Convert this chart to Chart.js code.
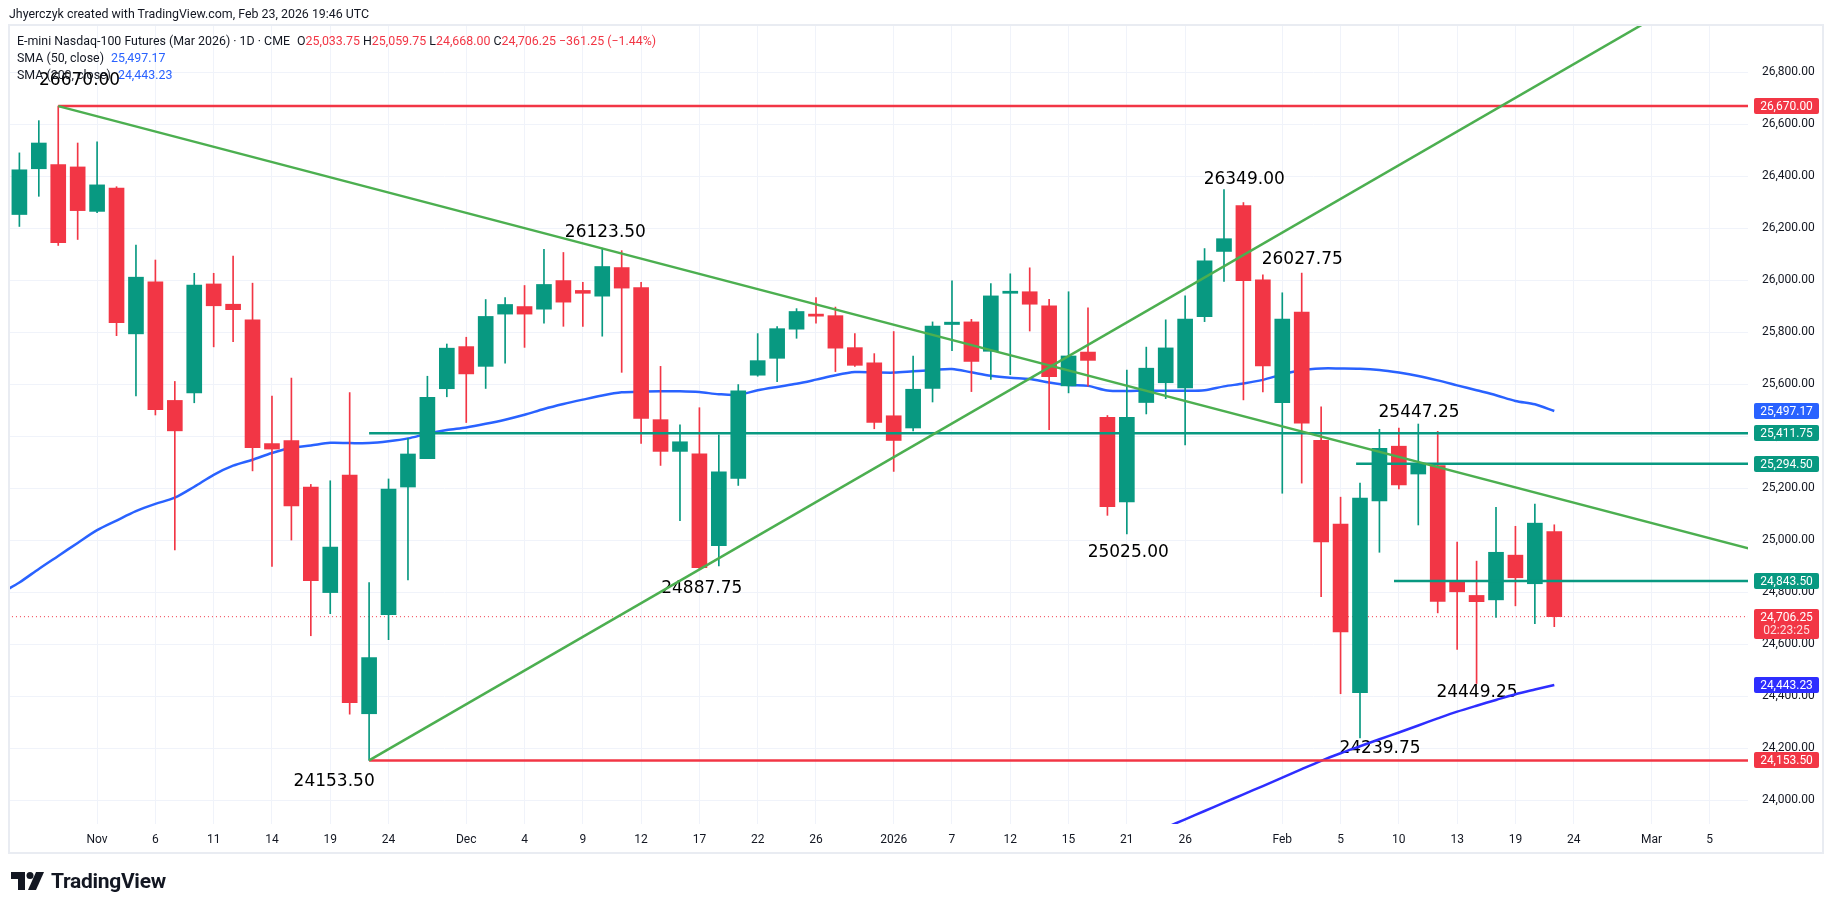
<!DOCTYPE html>
<html>
<head>
<meta charset="utf-8">
<script src="https://cdn.jsdelivr.net/npm/chart.js@4.4.1/dist/chart.umd.min.js"></script>
<style>
  html, body { margin: 0; padding: 0; background: #fff; width: 1835px; height: 913px; overflow: hidden; }
  body { font-family: Roboto, "DejaVu Sans", sans-serif; color: #131722; }
  canvas { position: absolute; left: 0; top: 0; }
  .txt { position: absolute; white-space: nowrap; font-size: 12.4px; }
  .red { color: #f23645; }
  .blue { color: #2962ff; }
  .gap { margin-left: 7px; }
  .sgap { margin-left: 3px; }
  #logo { position: absolute; left: 11px; top: 869px; display: flex; align-items: center; gap: 6px;
          font-weight: 700; font-size: 21px; letter-spacing: -0.3px; color: #131722; }
</style>
</head>
<body>
<canvas id="chart" width="1835" height="913"></canvas>

<div class="txt" style="left:9px;top:6px;">Jhyerczyk created with TradingView.com, Feb 23, 2026 19:46 UTC</div>
<div class="txt" style="left:17px;top:33px;">E-mini Nasdaq-100 Futures (Mar 2026) · 1D · CME<span class="gap">O</span><span class="red">25,033.75</span><span class="sgap">H</span><span class="red">25,059.75</span><span class="sgap">L</span><span class="red">24,668.00</span><span class="sgap">C</span><span class="red">24,706.25</span><span class="red sgap">−361.25 (−1.44%)</span></div>
<div class="txt" style="left:17px;top:50px;">SMA (50, close)<span class="blue gap">25,497.17</span></div>
<div class="txt" style="left:17px;top:67px;">SMA (200, close)<span class="blue gap">24,443.23</span></div>

<div id="logo">
  <svg width="34" height="22" viewBox="0 0 34 22"><path d="M0 2h14v18H7V9H0z" fill="#131722"/><circle cx="19" cy="5.5" r="3.5" fill="#131722"/><path d="M25 2h8l-8 18h-8z" fill="#131722"/></svg>
  <span>TradingView</span>
</div>

<script>
// ===== DATA (bar index 0 = Oct 28, 2025) =====
const opens = [26253,26429,26445,26436,26265,26355,25794,25994,25538,25567,
  25986,25908,25848,25372,25384,25205,24799,25251,24333,24714,
  25205,25314,25583,25745,25669,25870,25899,25889,25999,25961,
  25939,26049,25972,25464,25342,25333,24979,25238,25635,25700,
  25812,25870,25864,25741,25683,25479,25432,25584,25830,25840,
  25727,25950,25956,25902,25594,25724,25473,25148,25530,25606,
  25586,25860,26111,26287,26002,25529,25878,25385,25062,24414,
  25152,25362,25255,25287,24842,24788,24771,24943,24833,25033.75];
const highs = [26490,26614,26670,26528,26533,26360,26135,26078,25611,26027,
  26027,26093,25989,25555,25624,25215,25229,25568,24837,25236,
  25392,25631,25755,25781,25926,25934,25980,26119,26107,25992,
  26123.5,26114,25992,25669,25444,25510,25406,25599,25795,25822,
  25891,25934,25897,25795,25718,25803,25709,25840,25998,25850,
  25987,26025,26048,25927,25956,25894,25480,25655,25743,25848,
  25940,26122,26349,26299,26021,25952,26027.75,25513,25166,25220,
  25427,25432,25447.25,25419,24993,24920,25127,25054,25139,25059.75];
const lows = [26207,26323,26134,26157,26260,25787,25555,25482,24963,25529,
  25744,25764,25267,24900,25001,24633,24718,24331,24153.5,24618,
  24848,25314,25552,25453,25584,25681,25742,25835,25823,25823,
  25785,25646,25373,25288,25076,24887.75,24902,25211,25631,25610,
  25777,25835,25649,25669,25429,25265,25421,25532,25729,25572,
  25619,25637,25805,25426,25567,25593,25096,25025,25486,25545,
  25367,25841,25996,25540,25571,25181,25220,24783,24410,24239.75,
  24954,25198,25059,24721,24580,24449.25,24703,24748,24679,24668];
const closes = [26425,26528,26145,26268,26367,25837,26012,25502,25421,25982,
  25902,25887,25356,25351,25132,24845,24974,24376,24549,25197,
  25332,25550,25739,25640,25861,25907,25870,25984,25916,25950,
  26053,25970,25469,25342,25379,24895,25263,25575,25691,25814,
  25880,25862,25739,25673,25453,25384,25581,25824,25839,25688,
  25940,25958,25908,25629,25709,25692,25129,25473,25662,25740,
  25851,26075,26160,25999,25671,25851,25451,24994,24648,25162,
  25354,25213,25295,24765,24802,24764,24954,24856,25066,24706.25];

// SMA 50, starting one bar before the first candle (index -1)
const sma50 = [24795,24838,24890,24940,24990,25039,25076,25112,25140,25164,25206,
  25252,25287,25310,25336,25356,25365,25375,25374,25374,25381,
  25392,25410,25424,25434,25448,25464,25483,25505,25524,25541,
  25557,25569,25572,25573,25573,25570,25562,25560,25577,25590,
  25602,25618,25635,25647,25646,25645,25650,25655,25659,25646,
  25633,25625,25620,25607,25597,25594,25576,25574,25576,25575,
  25575,25577,25592,25603,25617,25638,25655,25661,25661,25660,
  25655,25645,25632,25615,25596,25577,25558,25536,25523,25497.17];
// SMA 200, from index 58 (earlier values are below the visible range)
const sma200Start = 58;
const sma200 = [23863,23895,23927,23959,23991,24023,24055,24087,24120,24152,24181,
  24208,24235,24261,24288,24315,24341,24364,24386,24408,24426,24443.23];

// drawings: [startIndex, startPrice, endIndex, endPrice]
const trendLines = [[2, 26670, 89, 24969], [18, 24153.5, 89, 27220]];
const redLevels = [[2, 26670], [18, 24153.5]];
const tealLevels = [[18, 25411.75], [68.8, 25294.5], [70.75, 24843.5]];
const lastPrice = 24706.25;

// text notes: [text, bar index, price]
const notes = [
  ["26670.00", 3.1, 26768], ["26123.50", 30.16, 26185], ["24887.75", 35.12, 24815],
  ["26349.00", 63.04, 26386], ["26027.75", 66.03, 26078], ["25025.00", 57.07, 24954],
  ["25447.25", 72.04, 25492], ["24449.25", 75.02, 24414], ["24239.75", 70.03, 24200],
  ["24153.50", 16.2, 24071]
];

// price axis tags: [price, colour]
const axisTags = [[26670, "#f23645"], [25497.17, "#2962ff"], [25411.75, "#089981"],
  [25294.5, "#089981"], [24843.5, "#089981"], [24443.23, "#2e2eff"], [24153.5, "#f23645"]];
const countdown = "02:23:25";

const priceTicks = [24000,24200,24400,24600,24800,25000,25200,25400,25600,25800,26000,26200,26400,26600,26800];
const dateTickIdx = [4,7,10,13,16,19,23,26,29,32,35,38,41,45,48,51,54,57,60,65,68,71,74,77,80,84,87];
const dateTickText = ["Nov","6","11","14","19","24","Dec","4","9","12","17","22","26","2026","7","12","15","21","26","Feb","5","10","13","19","24","Mar","5"];

// ===== COLOURS =====
const UP = "#089981", DOWN = "#f23645", TREND = "#4caf50", GRID = "#f0f3fa", TEXT = "#131722";

const candleColor = ctx => closes[ctx.dataIndex] >= opens[ctx.dataIndex] ? UP : DOWN;
const fmt = v => v.toLocaleString("en-US", { minimumFractionDigits: 2, maximumFractionDigits: 2 });

const datasets = [];

// trend lines
trendLines.forEach(t => datasets.push({
  type: "line", order: 0, borderColor: TREND, borderWidth: 2.5, pointRadius: 0,
  data: [{ x: t[0], y: t[1] }, { x: t[2], y: t[3] }]
}));
redLevels.forEach(l => datasets.push({
  type: "line", order: 0, borderColor: DOWN, borderWidth: 2.5, pointRadius: 0,
  data: [{ x: l[0], y: l[1] }, { x: 89, y: l[1] }]
}));
tealLevels.forEach(l => datasets.push({
  type: "line", order: 0, borderColor: UP, borderWidth: 2.5, pointRadius: 0,
  data: [{ x: l[0], y: l[1] }, { x: 89, y: l[1] }]
}));

// candle bodies + wicks
datasets.push({
  type: "bar", order: 1, grouped: false, barThickness: 15, borderWidth: 0, borderSkipped: false,
  backgroundColor: candleColor,
  data: opens.map((o, i) => ({ x: i, y: [o, closes[i]] }))
});
datasets.push({
  type: "bar", order: 2, grouped: false, barThickness: 1, borderWidth: 0, borderSkipped: false,
  backgroundColor: candleColor,
  data: lows.map((l, i) => ({ x: i, y: [l, highs[i]] }))
});

// moving averages
datasets.push({
  type: "line", order: 3, borderColor: "#2962ff", borderWidth: 2.5, pointRadius: 0, tension: 0.3,
  data: sma50.map((v, i) => ({ x: i - 1, y: v }))
});
datasets.push({
  type: "line", order: 3, borderColor: "#2e2eff", borderWidth: 2.5, pointRadius: 0, tension: 0.3,
  data: sma200.map((v, i) => ({ x: i + sma200Start, y: v }))
});

// last price dotted line
datasets.push({
  type: "line", order: 4, borderColor: DOWN, borderWidth: 1, borderDash: [1, 3], pointRadius: 0,
  data: [{ x: -1, y: lastPrice }, { x: 89, y: lastPrice }]
});

const overlay = {
  id: "overlay",
  beforeDatasetsDraw(chart) {
    const { ctx, scales: { x, y } } = chart;
    ctx.save();
    ctx.beginPath();
    ctx.rect(chart.chartArea.left, chart.chartArea.top, chart.chartArea.width, chart.chartArea.height);
    ctx.clip();
    ctx.font = '17px "DejaVu Sans"';
    ctx.fillStyle = "#000";
    ctx.textAlign = "center";
    ctx.textBaseline = "middle";
    notes.forEach(n => ctx.fillText(n[0], x.getPixelForValue(n[1]), y.getPixelForValue(n[2])));
    ctx.restore();
  },
  afterDraw(chart) {
    const { ctx, scales: { y } } = chart;
    ctx.save();
    // panel frame
    ctx.strokeStyle = "#e9ecf2";
    ctx.lineWidth = 2;
    ctx.strokeRect(9, 25, 1814, 828);

    ctx.font = "12px Roboto";
    ctx.textAlign = "center";
    ctx.textBaseline = "middle";
    const bx = 1754, bw = 65;
    axisTags.forEach(t => {
      const py = Math.round(y.getPixelForValue(t[0]));
      ctx.fillStyle = t[1];
      ctx.beginPath();
      ctx.roundRect(bx, py - 8, bw, 16, 2);
      ctx.fill();
      ctx.fillStyle = "#fff";
      ctx.fillText(fmt(t[0]), bx + bw / 2, py + 0.5);
    });
    // last price + countdown
    const py = Math.round(y.getPixelForValue(lastPrice));
    ctx.fillStyle = DOWN;
    ctx.beginPath();
    ctx.roundRect(bx, py - 8, bw, 30, 2);
    ctx.fill();
    ctx.fillStyle = "#fff";
    ctx.fillText(fmt(lastPrice), bx + bw / 2, py + 0.5);
    ctx.fillStyle = "rgba(255,255,255,0.82)";
    ctx.fillText(countdown, bx + bw / 2, py + 14);
    ctx.restore();
  }
};

new Chart(document.getElementById("chart"), {
  type: "bar",
  data: { datasets },
  plugins: [overlay],
  options: {
    responsive: false,
    animation: false,
    devicePixelRatio: 1,
    layout: { padding: { left: 10, top: 26, right: 0, bottom: 0 } },
    plugins: { legend: { display: false }, tooltip: { enabled: false } },
    scales: {
      x: {
        type: "linear", position: "bottom", min: -0.483, max: 88.97, offset: false,
        grid: { color: GRID, drawTicks: false, offset: false },
        border: { display: false },
        afterBuildTicks: s => { s.ticks = dateTickIdx.map(v => ({ value: v })); },
        afterFit: s => { s.height = 89; },
        ticks: {
          autoSkip: false, maxRotation: 0, padding: 9, color: TEXT,
          font: { family: "Roboto", size: 12 },
          callback: v => dateTickText[dateTickIdx.indexOf(v)]
        }
      },
      y: {
        type: "linear", position: "right", min: 23909, max: 26978,
        grid: { color: GRID, drawTicks: false },
        border: { display: false },
        afterBuildTicks: s => { s.ticks = priceTicks.map(v => ({ value: v })); },
        afterFit: s => { s.width = 87; },
        ticks: { padding: 14, color: TEXT, font: { family: "Roboto", size: 12 }, callback: v => fmt(v) }
      }
    }
  }
});
</script>
</body>
</html>
